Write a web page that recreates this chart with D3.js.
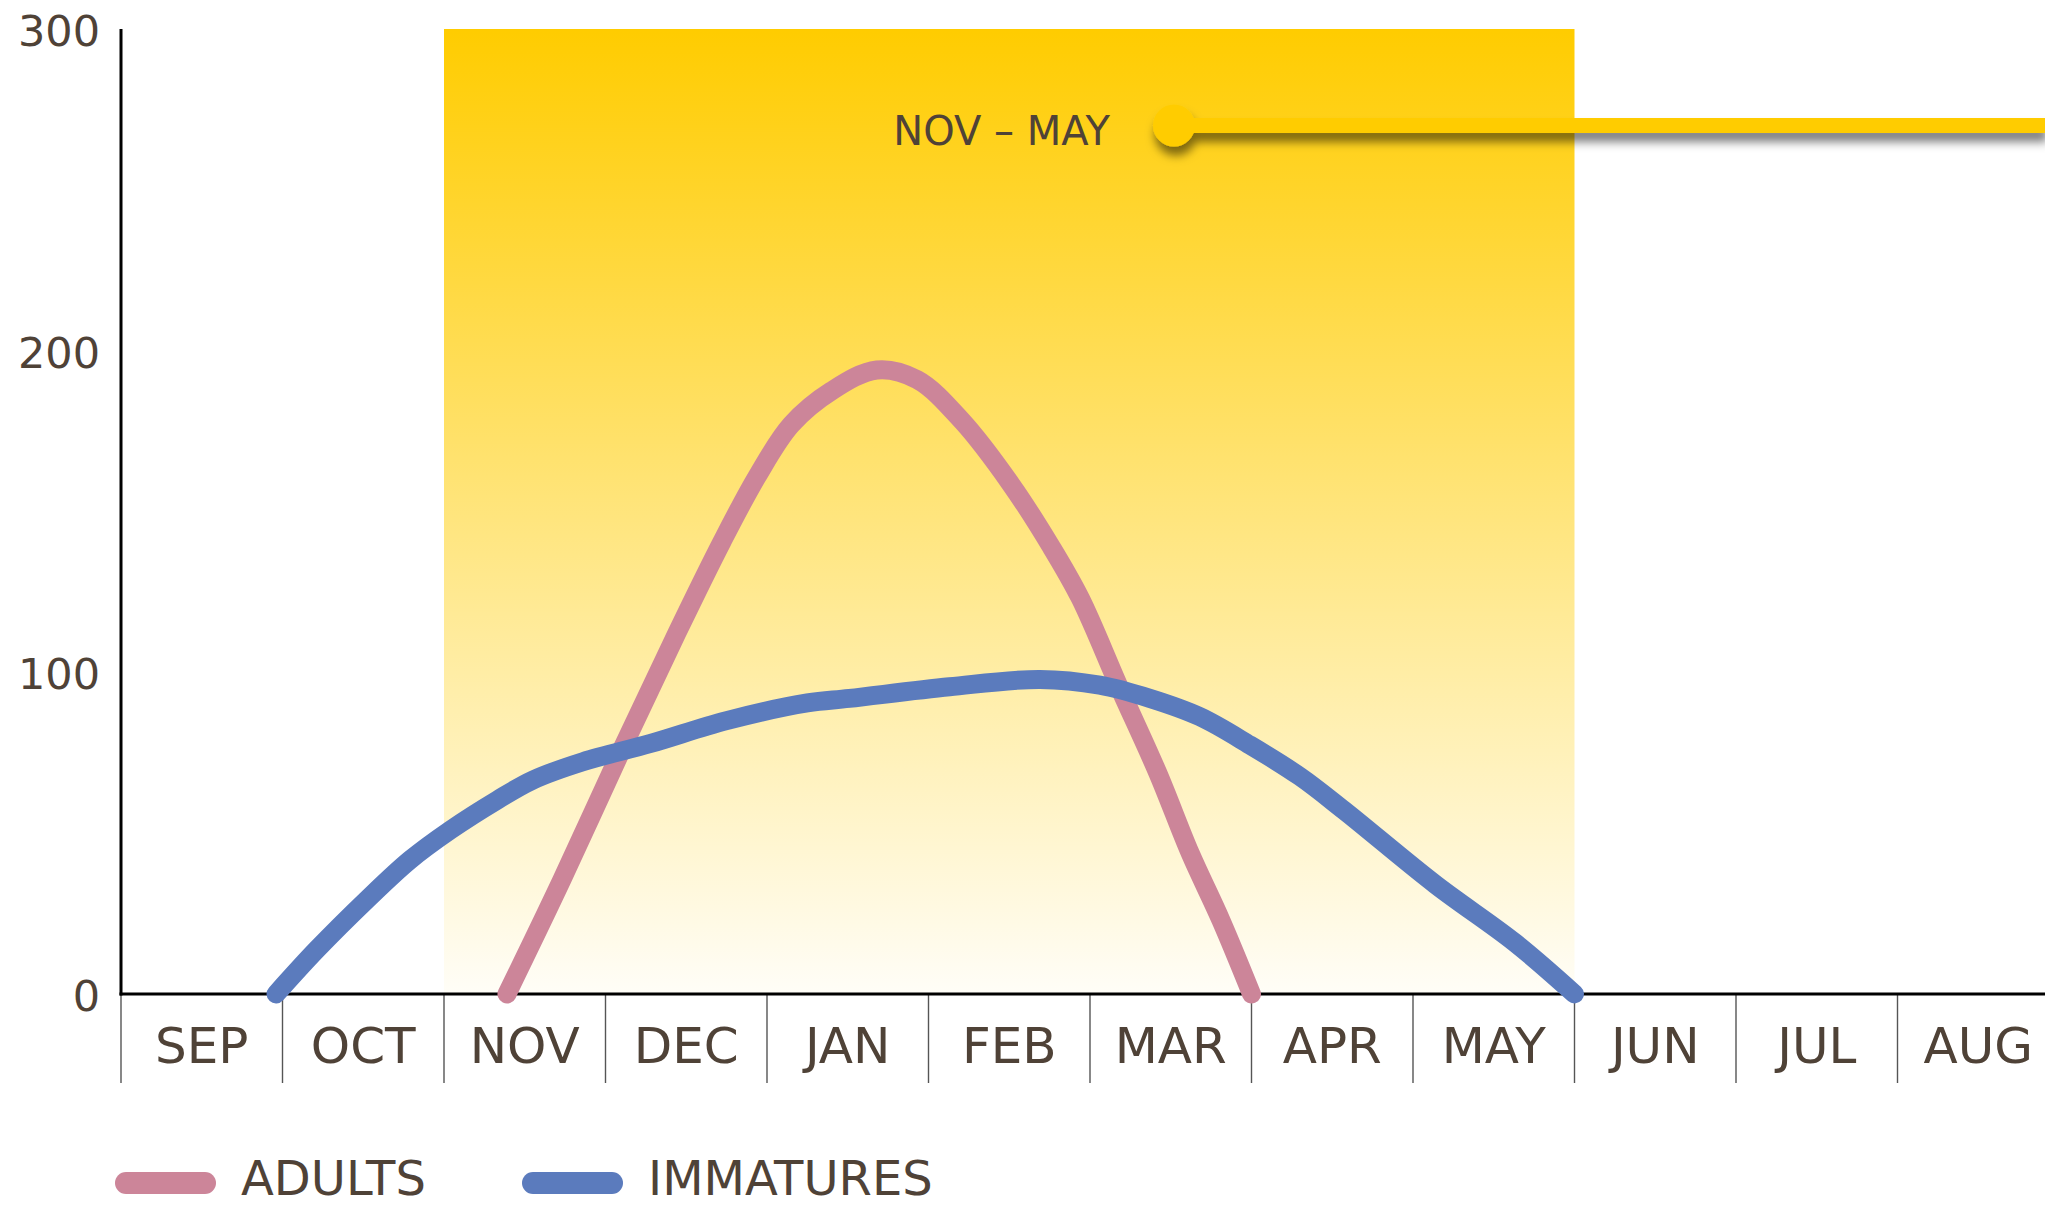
<!DOCTYPE html>
<html>
<head>
<meta charset="utf-8">
<script src="https://cdn.jsdelivr.net/npm/d3@7"></script>
<style>
  html, body { margin: 0; padding: 0; background: #ffffff; }
  svg { display: block; }
  text { font-family: "DejaVu Sans", Verdana, sans-serif; fill: #4F4237; }
</style>
</head>
<body>
<svg id="chart" width="2045" height="1207"></svg>
<script>
// ---- data ----
const months = ["SEP", "OCT", "NOV", "DEC", "JAN", "FEB", "MAR", "APR", "MAY", "JUN", "JUL", "AUG"];
const yTicks = [0, 100, 200, 300];

// x = month position (0 = start of SEP), y = count
const adultsMonth = [2.39, 2.73, 3.11, 3.44, 3.72, 3.94, 4.15, 4.40, 4.68, 4.93, 5.21, 5.51, 5.76, 5.94, 6.18, 6.42, 6.62, 6.81, 7.0];
const adultsValue = [0, 35.5, 77, 112, 140.5, 161, 177, 187.5, 194, 191, 178, 158.5, 139, 123, 95.5, 68.7, 43.8, 23, 0];

const immaturesMonth = [0.96, 1.21, 1.52, 1.79, 2.04, 2.33, 2.55, 2.86, 3.28, 3.75, 4.25, 4.51, 5.13, 5.69, 6.06, 6.37, 6.68, 6.99, 7.30, 7.57, 8.14, 8.63, 9.0];
const immaturesValue = [0, 13.7, 29.2, 41.7, 51, 60.3, 66.5, 72.2, 77.9, 85, 90.5, 91.9, 95.5, 97.8, 96, 91.9, 86.2, 77.4, 67.6, 57.2, 34, 16, 0];

const seasonStart = 2;   // NOV
const seasonEnd = 9;     // end of MAY
const seasonLabel = "NOV – MAY";
const seasonMarkerMonth = 6.52;
const seasonMarkerValue = 270;

const legendLabels = ["ADULTS", "IMMATURES"];
const seriesColors = ["#CC8599", "#5B7BBD"];

// ---- layout ----
const svg = d3.select("#chart");
const W = 2045;
const x = d3.scaleLinear().domain([0, 12]).range([121, 121 + 12 * 161.5]);
const y = d3.scaleLinear().domain([0, 300]).range([994, 29]);

const defs = svg.append("defs");
const grad = defs.append("linearGradient").attr("id", "season")
  .attr("x1", 0).attr("y1", 0).attr("x2", 0).attr("y2", 1);
grad.append("stop").attr("offset", "0%").attr("stop-color", "#FFCC00").attr("stop-opacity", 1);
grad.append("stop").attr("offset", "100%").attr("stop-color", "#FFCC00").attr("stop-opacity", 0.03);

const shadow = defs.append("filter").attr("id", "shadow")
  .attr("x", "-10%").attr("y", "-200%").attr("width", "120%").attr("height", "500%");
shadow.append("feDropShadow").attr("dx", 2).attr("dy", 9).attr("stdDeviation", 5)
  .attr("flood-color", "#000").attr("flood-opacity", 0.5);

// season band
svg.append("rect")
  .attr("x", x(seasonStart)).attr("y", y(300))
  .attr("width", x(seasonEnd) - x(seasonStart))
  .attr("height", y(0) - y(300))
  .attr("fill", "url(#season)");

// month tick lines
svg.append("g").selectAll("line").data(d3.range(0, 13)).join("line")
  .attr("x1", d => x(d)).attr("x2", d => x(d))
  .attr("y1", y(0)).attr("y2", y(0) + 89)
  .attr("stroke", "#555").attr("stroke-width", 1.4);

// month labels
svg.append("g").selectAll("text").data(months).join("text")
  .attr("x", (d, i) => x(i + 0.5)).attr("y", 1063)
  .attr("text-anchor", "middle").attr("font-size", 50)
  .text(d => d);

// axes lines
svg.append("line").attr("x1", x(0)).attr("x2", x(0)).attr("y1", y(300)).attr("y2", y(0) + 1.5)
  .attr("stroke", "#000").attr("stroke-width", 3);
svg.append("line").attr("x1", x(0) - 1.5).attr("x2", W).attr("y1", y(0)).attr("y2", y(0))
  .attr("stroke", "#000").attr("stroke-width", 3);

// y tick labels
svg.append("g").selectAll("text").data(yTicks).join("text")
  .attr("x", 100).attr("y", d => y(d) + 17)
  .attr("text-anchor", "end").attr("font-size", 43)
  .text(d => d);

// season annotation
const ann = svg.append("g").attr("filter", "url(#shadow)");
ann.append("line")
  .attr("x1", x(seasonMarkerMonth)).attr("x2", W)
  .attr("y1", y(seasonMarkerValue)).attr("y2", y(seasonMarkerValue))
  .attr("stroke", "#FFCC00").attr("stroke-width", 15);
ann.append("circle")
  .attr("cx", x(seasonMarkerMonth)).attr("cy", y(seasonMarkerValue)).attr("r", 21)
  .attr("fill", "#FFCC00");
svg.append("text")
  .attr("x", x(seasonMarkerMonth) - 64).attr("y", y(seasonMarkerValue) + 19)
  .attr("text-anchor", "end").attr("font-size", 40)
  .text(seasonLabel);

// lines
const line = d3.line().x(d => x(d[0])).y(d => y(d[1])).curve(d3.curveCatmullRom.alpha(0.5));
const adults = adultsMonth.map((m, i) => [m, adultsValue[i]]);
const immatures = immaturesMonth.map((m, i) => [m, immaturesValue[i]]);
[adults, immatures].forEach((s, i) => {
  svg.append("path").datum(s).attr("d", line)
    .attr("fill", "none").attr("stroke", seriesColors[i])
    .attr("stroke-width", 19).attr("stroke-linecap", "round").attr("stroke-linejoin", "round");
});

// legend
const legendX = [126, 533];
const legend = svg.append("g");
legendLabels.forEach((lab, i) => {
  legend.append("line")
    .attr("x1", legendX[i]).attr("x2", legendX[i] + 79)
    .attr("y1", 1183).attr("y2", 1183)
    .attr("stroke", seriesColors[i]).attr("stroke-width", 22).attr("stroke-linecap", "round");
  legend.append("text")
    .attr("x", legendX[i] + 115).attr("y", 1195)
    .attr("font-size", 48).text(lab);
});
</script>
</body>
</html>
